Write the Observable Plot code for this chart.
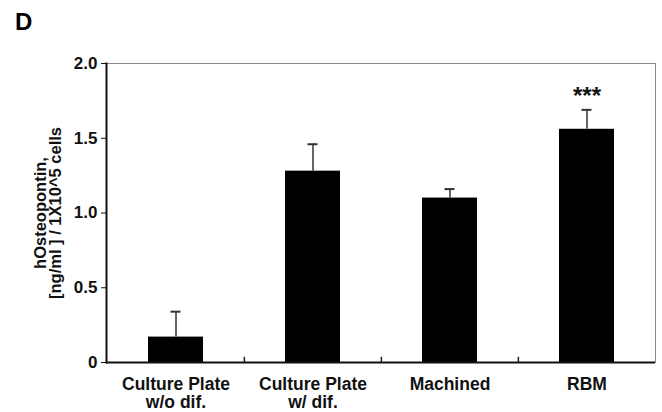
<!DOCTYPE html>
<html>
<head>
<meta charset="utf-8">
<script src="https://cdn.jsdelivr.net/npm/d3@7"></script>
<script src="https://cdn.jsdelivr.net/npm/@observablehq/plot@0.6"></script>
<style>
  html, body { margin: 0; padding: 0; background: #fff; }
  #wrap { position: relative; width: 662px; height: 412px; font-family: "Liberation Sans", Arial, sans-serif; }
  #panel { position: absolute; left: 15px; top: 8px; font-size: 24px; font-weight: bold; color: #000; line-height: normal; }
</style>
</head>
<body>
<div id="wrap"><div id="panel">D</div></div>
<script>
const categories = ["Culture Plate\nw/o dif.", "Culture Plate\nw/ dif.", "Machined", "RBM"];
const means = [0.17, 1.28, 1.10, 1.56];
const errors = [0.17, 0.18, 0.06, 0.13];
const marks = ["", "", "", "***"];
const yTicks = [0, 0.5, 1.0, 1.5, 2.0];
const yTickLabels = ["0", "0.5", "1.0", "1.5", "2.0"];
const yLabel = "hOsteopontin,\n[ng/ml ] / 1X10^5 cells";

const data = categories.map((c, i) => ({cat: c, mean: means[i], err: errors[i], top: means[i] + errors[i], sig: marks[i]}));
const ticks = yTicks.map((v, i) => ({v, label: yTickLabels[i]}));

const W = 662, H = 412, mL = 106, mR = 7, mT = 63, mB = 50;
const step = (W - mL - mR) / categories.length;

const chart = Plot.plot({
  width: W, height: H,
  marginLeft: mL, marginRight: mR, marginTop: mT, marginBottom: mB,
  style: {fontFamily: "Liberation Sans, Arial, sans-serif", color: "#111", background: "#fff"},
  x: {domain: categories, paddingInner: 0.6, paddingOuter: 0.3, label: null},
  y: {domain: [0, 2], label: null},
  marks: [
    Plot.frame({stroke: "#888", strokeWidth: 1}),
    Plot.barY(data, {x: "cat", y: "mean", fill: "#000"}),
    Plot.ruleX(data, {x: "cat", y1: "mean", y2: "top", stroke: "#333", strokeWidth: 1.5}),
    Plot.tickY(data, {x: "cat", y: "top", stroke: "#333", strokeWidth: 2, insetLeft: 22.5, insetRight: 22.5}),
    Plot.text(data, {x: "cat", y: "top", text: "sig", dy: -14, fontSize: 24, fontWeight: "bold", fill: "#111"}),
    Plot.ruleX(categories.slice(1), {x: d => d, y1: 0, y2: 0.035, dx: -step / 2, stroke: "#222", strokeWidth: 1.5}),
    Plot.ruleY([0], {stroke: "#111", strokeWidth: 2}),
    Plot.frame({anchor: "left", stroke: "#111", strokeWidth: 2}),
    Plot.axisY({ticks: yTicks, tickSize: 5, text: null, label: null}),
    Plot.text(ticks, {y: "v", text: "label", frameAnchor: "left", textAnchor: "end", dx: -9, fontSize: 17, fontWeight: "bold", fill: "#111"}),
    Plot.axisX({tickSize: 0, tickPadding: 14, fontSize: 17.5, fontWeight: "bold", lineHeight: 1.05, label: null}),
    Plot.text([yLabel], {frameAnchor: "left", textAnchor: "middle", text: d => d, rotate: -90, dx: -58, fontSize: 16.5, fontWeight: "bold", lineHeight: 0.9, fill: "#111"})
  ]
});
document.getElementById("wrap").prepend(chart);
</script>
</body>
</html>
